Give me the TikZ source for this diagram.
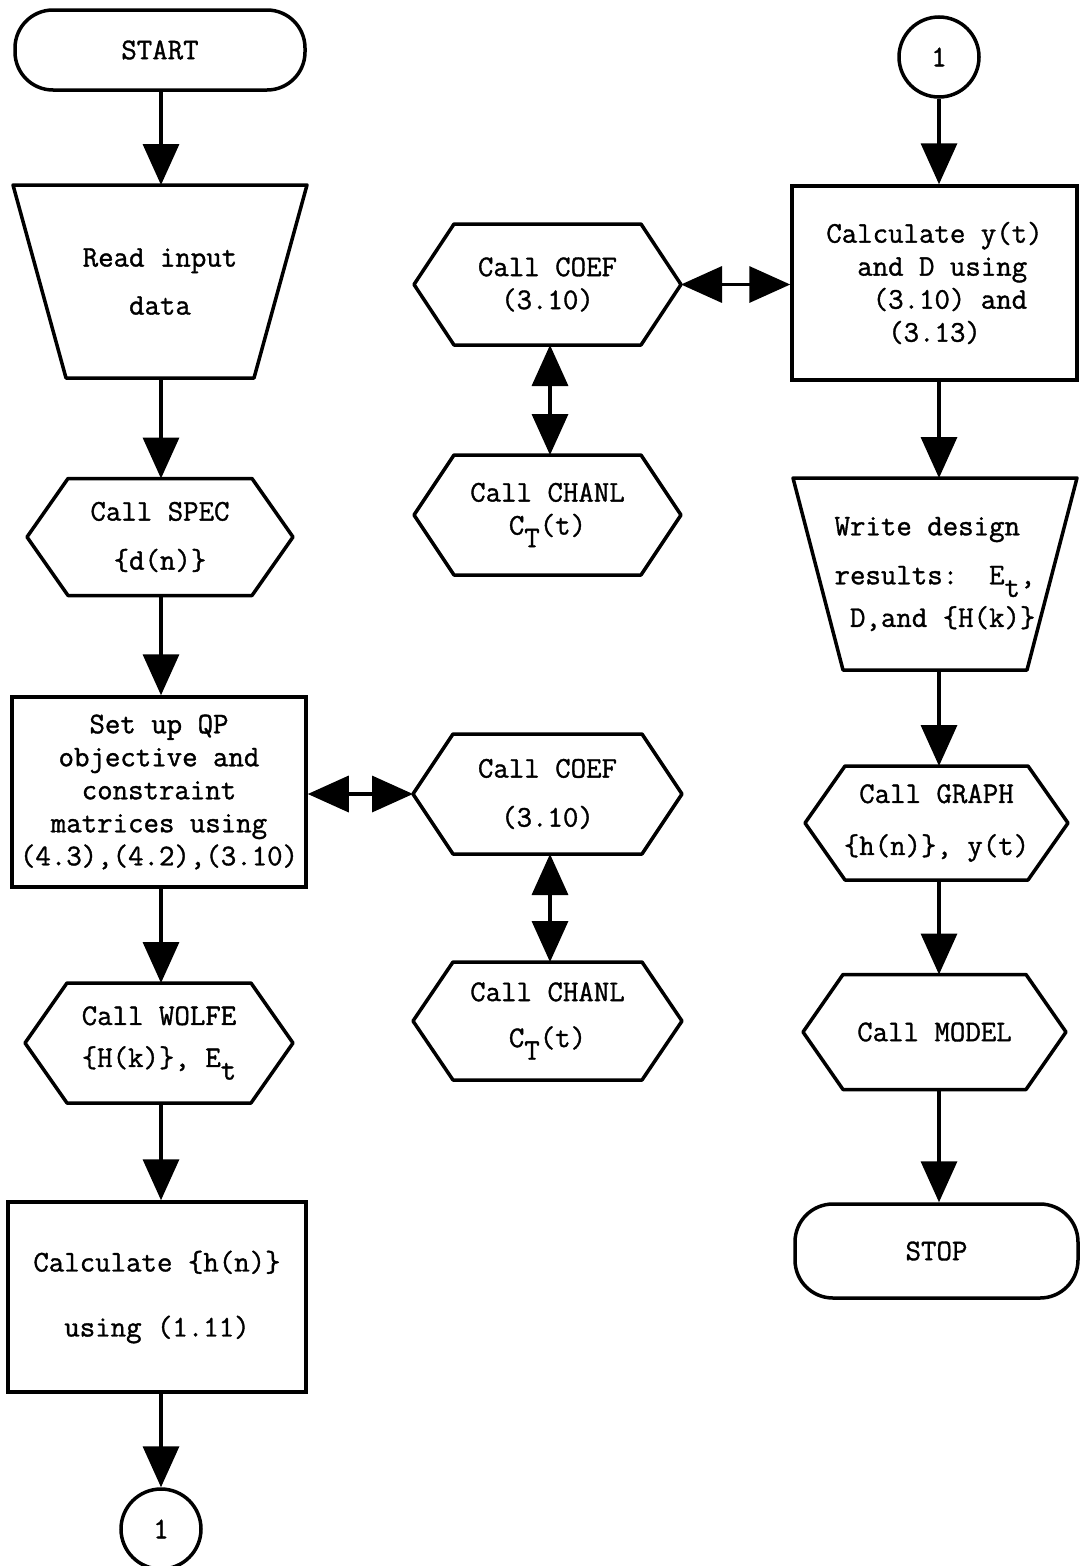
\documentclass[tikz,border=0pt]{standalone}
\usepackage{fontspec}
\usetikzlibrary{arrows.meta}

% typewriter face, slightly emboldened like a ribbon impression
\newfontfamily\typew{Latin Modern Mono}[FakeBold=1.2]

% lowered same-size subscript, as on a typewriter
\newcommand\lowsub[1]{\raisebox{-0.42em}{#1}}
% hexagon (preparation) outline around a node: #1 node, #2 depth of the points
\newcommand\hexframe[2]{\draw[shapeline] ([xshift=#2]#1.north west) -- ([xshift=-#2]#1.north east) -- (#1.east) -- ([xshift=-#2]#1.south east) -- ([xshift=#2]#1.south west) -- (#1.west) -- cycle;}
% trapezoid (manual input / output) outline: wide top, narrow bottom
\newcommand\trapframe[2]{\draw[shapeline] (#1.north west) -- (#1.north east) -- ([xshift=-#2]#1.south east) -- ([xshift=#2]#1.south west) -- cycle;}

\tikzset{
  shapeline/.style={line width=3.5pt, line join=round},
  txt/.style={font=\typew\fontsize{30}{33}\selectfont, inner sep=0pt, align=center},
  terminal/.style={txt, draw, line width=3.5pt, rounded corners=38pt},
  procbox/.style={txt, draw, line width=3.5pt},
  hexnode/.style={txt, outer sep=0pt},
  trapnode/.style={txt, outer sep=0pt},
  connector/.style={txt, draw, circle, line width=3.5pt, minimum size=80pt},
  flow/.style={line width=3.5pt, -{Triangle[length=41pt,width=36pt]}},
  twoway/.style={line width=3.5pt, {Triangle[length=41pt,width=36pt]}-{Triangle[length=41pt,width=36pt]}}
}

\begin{document}
\begin{tikzpicture}[x=1pt,y=-1pt]
\fill[white] (0,0) rectangle (1080,1566);
\useasboundingbox (0,0) rectangle (1080,1566);

% ---- left column ----
\node[terminal, minimum width=290pt, minimum height=80pt] (start) at (160,50) {START};
\node[trapnode, minimum width=294pt, minimum height=193pt] (read) at (160,281.5) {Read input\\[15pt]data};
\trapframe{read}{53pt}
\node[hexnode, minimum width=266pt, minimum height=117pt] (spec) at (160,537) {Call SPEC\\[16pt]\{d(n)\}};
\hexframe{spec}{41pt}
\node[procbox, minimum width=294pt, minimum height=190pt] (setup) at (159,792)
  {Set up QP\\objective and\\constraint\\matrices using\\(4.3),(4.2),(3.10)};
\node[hexnode, minimum width=268pt, minimum height=120pt] (wolfe) at (159,1043) {Call WOLFE\\[9pt]\{H(k)\}, E\lowsub{t}};
\hexframe{wolfe}{42pt}
\node[procbox, minimum width=298pt, minimum height=190pt] (calch) at (157,1297) {Calculate \{h(n)\}\\[32pt]using (1.11)};
\node[connector] (offA) at (161,1529) {1};

% ---- middle column ----
\node[hexnode, minimum width=267pt, minimum height=121pt] (coefA) at (547.5,284.5) {Call COEF\\(3.10)};
\hexframe{coefA}{40pt}
\node[hexnode, minimum width=267pt, minimum height=120pt] (chanlA) at (547.5,515) {Call CHANL\\C\lowsub{T}(t)};
\hexframe{chanlA}{40pt}
\node[hexnode, minimum width=269pt, minimum height=120pt] (coefB) at (547.5,794) {Call COEF\\[16pt](3.10)};
\hexframe{coefB}{40pt}
\node[hexnode, minimum width=269pt, minimum height=118pt] (chanlB) at (547.5,1021) {Call CHANL\\[13pt]C\lowsub{T}(t)};
\hexframe{chanlB}{40pt}

% ---- right column ----
\node[connector] (offB) at (939,57) {1};
\node[procbox, align=left, minimum width=285pt, minimum height=194pt] (calcy) at (934.5,283)
  {Calculate y(t)\\\phantom{xx}and D using\\\phantom{xxx}(3.10) and\\\phantom{xxxx}(3.13)};
\node[trapnode, align=left, minimum width=284pt, minimum height=192pt] (write) at (935,574)
  {Write design\\[16pt]results:\ \ E\lowsub{t},\\[8pt]\phantom{x}D,and \{H(k)\}};
\trapframe{write}{50pt}
\node[hexnode, minimum width=263pt, minimum height=114pt] (graph) at (936.5,823) {Call GRAPH\\[19pt]\{h(n)\}, y(t)};
\hexframe{graph}{40pt}
\node[hexnode, minimum width=263pt, minimum height=115pt] (model) at (934.5,1032) {Call MODEL};
\hexframe{model}{40pt}
\node[terminal, minimum width=283pt, minimum height=94pt] (stop) at (936.5,1251) {STOP};

% ---- flow lines, left column ----
\draw[flow] (start.south -| offA) -- (read.north -| offA);
\draw[flow] (read.south -| offA) -- (spec.north -| offA);
\draw[flow] (spec.south -| offA) -- (setup.north -| offA);
\draw[flow] (setup.south -| offA) -- (wolfe.north -| offA);
\draw[flow] (wolfe.south -| offA) -- (calch.north -| offA);
\draw[flow] (calch.south -| offA) -- (offA.north);

% ---- flow lines, right column ----
\draw[flow] (offB.south) -- (calcy.north -| offB);
\draw[flow] (calcy.south -| offB) -- (write.north -| offB);
\draw[flow] (write.south -| offB) -- (graph.north -| offB);
\draw[flow] (graph.south -| offB) -- (model.north -| offB);
\draw[flow] (model.south -| offB) -- (stop.north -| offB);

% ---- subroutine calls (two-way) ----
\draw[twoway] (coefA.east) -- (coefA.east -| calcy.west);
\draw[twoway] ([xshift=2.5pt]coefA.south) -- ([xshift=2.5pt]coefA.south |- chanlA.north);
\draw[twoway] (setup.east |- coefB.west) -- (coefB.west);
\draw[twoway] ([xshift=2.5pt]coefB.south) -- ([xshift=2.5pt]coefB.south |- chanlB.north);
\end{tikzpicture}
\end{document}
